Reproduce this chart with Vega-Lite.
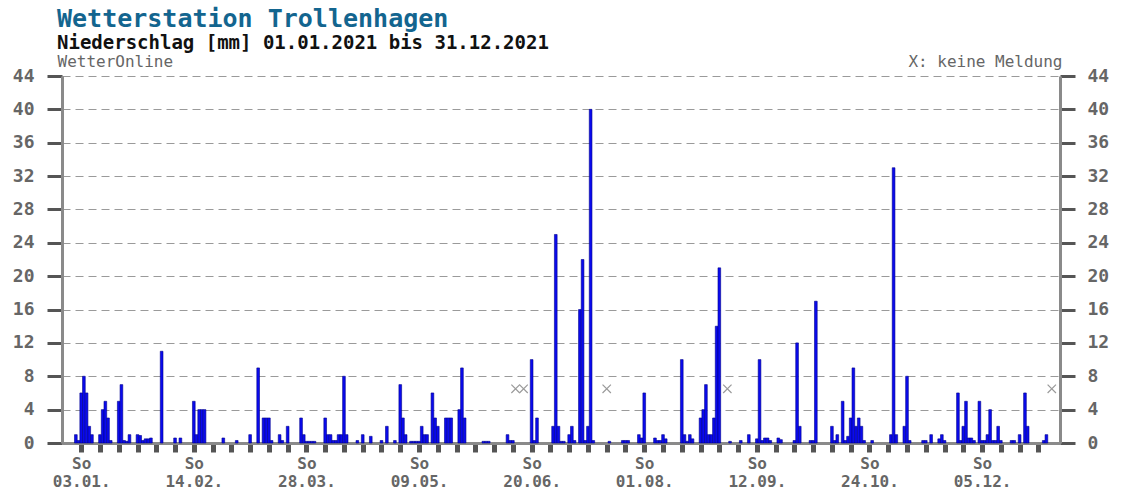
{
  "$schema": "https://vega.github.io/schema/vega-lite/v6.json",
  "width": 998,
  "height": 367,
  "autosize": {"type": "none"},
  "padding": {"left": 62, "top": 76, "right": 61, "bottom": 48},
  "background": "white",
  "config": {"view": {"stroke": null}, "font": "DejaVu Sans Mono"},
  "title": {
    "text": "Wetterstation Trollenhagen",
    "subtitle": "Niederschlag [mm] 01.01.2021 bis 31.12.2021",
    "anchor": "start",
    "frame": "group",
    "dx": -5,
    "offset": 0,
    "font": "DejaVu Sans Mono",
    "fontSize": 25,
    "fontWeight": "bold",
    "color": "#13658f",
    "subtitleFont": "DejaVu Sans Mono",
    "subtitleFontSize": 19,
    "subtitleFontWeight": "bold",
    "subtitleColor": "#111111",
    "subtitlePadding": 2
  },
  "layer": [
    {
      "data": {
        "format": {"parse": {"date": "utc:'%Y-%m-%d'"}},
        "values": [
          {"date": "2021-01-01", "mm": 1.0}, {"date": "2021-01-02", "mm": 0.3}, {"date": "2021-01-03", "mm": 6},
          {"date": "2021-01-04", "mm": 8}, {"date": "2021-01-05", "mm": 6}, {"date": "2021-01-06", "mm": 2},
          {"date": "2021-01-07", "mm": 1}, {"date": "2021-01-10", "mm": 1}, {"date": "2021-01-11", "mm": 4},
          {"date": "2021-01-12", "mm": 5}, {"date": "2021-01-13", "mm": 3}, {"date": "2021-01-14", "mm": 0.3},
          {"date": "2021-01-17", "mm": 5}, {"date": "2021-01-18", "mm": 7}, {"date": "2021-01-19", "mm": 0.3},
          {"date": "2021-01-20", "mm": 0.2}, {"date": "2021-01-21", "mm": 1}, {"date": "2021-01-24", "mm": 1},
          {"date": "2021-01-25", "mm": 0.9}, {"date": "2021-01-26", "mm": 0.3}, {"date": "2021-01-27", "mm": 0.5},
          {"date": "2021-01-28", "mm": 0.5}, {"date": "2021-01-29", "mm": 0.6}, {"date": "2021-02-02", "mm": 11},
          {"date": "2021-02-07", "mm": 0.6}, {"date": "2021-02-09", "mm": 0.6}, {"date": "2021-02-14", "mm": 5},
          {"date": "2021-02-15", "mm": 1}, {"date": "2021-02-16", "mm": 4}, {"date": "2021-02-17", "mm": 4},
          {"date": "2021-02-18", "mm": 4}, {"date": "2021-02-25", "mm": 0.6}, {"date": "2021-03-02", "mm": 0.3},
          {"date": "2021-03-07", "mm": 1}, {"date": "2021-03-10", "mm": 9}, {"date": "2021-03-12", "mm": 3},
          {"date": "2021-03-13", "mm": 3}, {"date": "2021-03-14", "mm": 3}, {"date": "2021-03-15", "mm": 0.3},
          {"date": "2021-03-18", "mm": 1}, {"date": "2021-03-19", "mm": 0.3}, {"date": "2021-03-21", "mm": 2},
          {"date": "2021-03-26", "mm": 3}, {"date": "2021-03-27", "mm": 1}, {"date": "2021-03-28", "mm": 0.2},
          {"date": "2021-03-29", "mm": 0.2}, {"date": "2021-03-30", "mm": 0.2}, {"date": "2021-03-31", "mm": 0.2},
          {"date": "2021-04-04", "mm": 3}, {"date": "2021-04-05", "mm": 1}, {"date": "2021-04-06", "mm": 1},
          {"date": "2021-04-07", "mm": 0.3}, {"date": "2021-04-08", "mm": 0.3}, {"date": "2021-04-09", "mm": 1},
          {"date": "2021-04-10", "mm": 1}, {"date": "2021-04-11", "mm": 8}, {"date": "2021-04-12", "mm": 1},
          {"date": "2021-04-16", "mm": 0.3}, {"date": "2021-04-18", "mm": 1}, {"date": "2021-04-21", "mm": 0.8},
          {"date": "2021-04-25", "mm": 0.3}, {"date": "2021-04-27", "mm": 2}, {"date": "2021-04-30", "mm": 0.3},
          {"date": "2021-05-02", "mm": 7}, {"date": "2021-05-03", "mm": 3}, {"date": "2021-05-04", "mm": 1},
          {"date": "2021-05-06", "mm": 0.2}, {"date": "2021-05-07", "mm": 0.2}, {"date": "2021-05-08", "mm": 0.2},
          {"date": "2021-05-09", "mm": 0.2}, {"date": "2021-05-10", "mm": 2}, {"date": "2021-05-11", "mm": 1},
          {"date": "2021-05-12", "mm": 1}, {"date": "2021-05-14", "mm": 6}, {"date": "2021-05-15", "mm": 3},
          {"date": "2021-05-16", "mm": 2}, {"date": "2021-05-19", "mm": 3}, {"date": "2021-05-20", "mm": 3},
          {"date": "2021-05-21", "mm": 3}, {"date": "2021-05-24", "mm": 4}, {"date": "2021-05-25", "mm": 9},
          {"date": "2021-05-26", "mm": 3}, {"date": "2021-06-02", "mm": 0.2}, {"date": "2021-06-03", "mm": 0.2},
          {"date": "2021-06-04", "mm": 0.2}, {"date": "2021-06-11", "mm": 1}, {"date": "2021-06-12", "mm": 0.3},
          {"date": "2021-06-13", "mm": 0.3}, {"date": "2021-06-20", "mm": 10}, {"date": "2021-06-21", "mm": 0.3},
          {"date": "2021-06-22", "mm": 3}, {"date": "2021-06-28", "mm": 2}, {"date": "2021-06-29", "mm": 25},
          {"date": "2021-06-30", "mm": 2}, {"date": "2021-07-01", "mm": 0.2}, {"date": "2021-07-02", "mm": 0.2},
          {"date": "2021-07-04", "mm": 1}, {"date": "2021-07-05", "mm": 2}, {"date": "2021-07-06", "mm": 0.3},
          {"date": "2021-07-08", "mm": 16}, {"date": "2021-07-09", "mm": 22}, {"date": "2021-07-10", "mm": 0.3},
          {"date": "2021-07-11", "mm": 2}, {"date": "2021-07-12", "mm": 40}, {"date": "2021-07-13", "mm": 0.3},
          {"date": "2021-07-19", "mm": 0.2}, {"date": "2021-07-24", "mm": 0.3}, {"date": "2021-07-25", "mm": 0.3},
          {"date": "2021-07-26", "mm": 0.3}, {"date": "2021-07-30", "mm": 1}, {"date": "2021-07-31", "mm": 0.6},
          {"date": "2021-08-01", "mm": 6}, {"date": "2021-08-05", "mm": 0.6}, {"date": "2021-08-06", "mm": 0.3},
          {"date": "2021-08-07", "mm": 0.3}, {"date": "2021-08-08", "mm": 1}, {"date": "2021-08-09", "mm": 0.5},
          {"date": "2021-08-15", "mm": 10}, {"date": "2021-08-16", "mm": 1}, {"date": "2021-08-17", "mm": 0.2},
          {"date": "2021-08-18", "mm": 1}, {"date": "2021-08-19", "mm": 0.5}, {"date": "2021-08-22", "mm": 3},
          {"date": "2021-08-23", "mm": 4}, {"date": "2021-08-24", "mm": 7}, {"date": "2021-08-25", "mm": 1},
          {"date": "2021-08-26", "mm": 1}, {"date": "2021-08-27", "mm": 3}, {"date": "2021-08-28", "mm": 14},
          {"date": "2021-08-29", "mm": 21}, {"date": "2021-09-02", "mm": 0.2}, {"date": "2021-09-06", "mm": 0.3},
          {"date": "2021-09-09", "mm": 1}, {"date": "2021-09-12", "mm": 0.5}, {"date": "2021-09-13", "mm": 10},
          {"date": "2021-09-14", "mm": 0.3}, {"date": "2021-09-15", "mm": 0.6}, {"date": "2021-09-16", "mm": 0.6},
          {"date": "2021-09-17", "mm": 0.3}, {"date": "2021-09-20", "mm": 0.6}, {"date": "2021-09-21", "mm": 0.4},
          {"date": "2021-09-26", "mm": 0.3}, {"date": "2021-09-27", "mm": 12}, {"date": "2021-09-28", "mm": 2},
          {"date": "2021-10-02", "mm": 0.3}, {"date": "2021-10-03", "mm": 0.3}, {"date": "2021-10-04", "mm": 17},
          {"date": "2021-10-10", "mm": 2}, {"date": "2021-10-11", "mm": 0.3}, {"date": "2021-10-12", "mm": 1},
          {"date": "2021-10-14", "mm": 5}, {"date": "2021-10-15", "mm": 0.3}, {"date": "2021-10-16", "mm": 0.8},
          {"date": "2021-10-17", "mm": 3}, {"date": "2021-10-18", "mm": 9}, {"date": "2021-10-19", "mm": 2},
          {"date": "2021-10-20", "mm": 3}, {"date": "2021-10-21", "mm": 2}, {"date": "2021-10-22", "mm": 0.3},
          {"date": "2021-10-25", "mm": 0.3}, {"date": "2021-11-01", "mm": 1}, {"date": "2021-11-02", "mm": 33},
          {"date": "2021-11-03", "mm": 1}, {"date": "2021-11-06", "mm": 2}, {"date": "2021-11-07", "mm": 8},
          {"date": "2021-11-08", "mm": 0.3}, {"date": "2021-11-13", "mm": 0.3}, {"date": "2021-11-14", "mm": 0.3},
          {"date": "2021-11-16", "mm": 1}, {"date": "2021-11-19", "mm": 0.5}, {"date": "2021-11-20", "mm": 1},
          {"date": "2021-11-21", "mm": 0.3}, {"date": "2021-11-26", "mm": 6}, {"date": "2021-11-27", "mm": 0.3},
          {"date": "2021-11-28", "mm": 2}, {"date": "2021-11-29", "mm": 5}, {"date": "2021-11-30", "mm": 0.6},
          {"date": "2021-12-01", "mm": 0.6}, {"date": "2021-12-02", "mm": 0.3}, {"date": "2021-12-04", "mm": 5},
          {"date": "2021-12-05", "mm": 0.3}, {"date": "2021-12-06", "mm": 0.3}, {"date": "2021-12-07", "mm": 1},
          {"date": "2021-12-08", "mm": 4}, {"date": "2021-12-09", "mm": 0.3}, {"date": "2021-12-10", "mm": 0.3},
          {"date": "2021-12-11", "mm": 2}, {"date": "2021-12-12", "mm": 0.3}, {"date": "2021-12-16", "mm": 0.3},
          {"date": "2021-12-17", "mm": 0.3}, {"date": "2021-12-19", "mm": 1}, {"date": "2021-12-21", "mm": 6},
          {"date": "2021-12-22", "mm": 2}, {"date": "2021-12-28", "mm": 0.3}, {"date": "2021-12-29", "mm": 1}
        ]
      },
      "mark": {"type": "bar", "width": 2.7, "fill": "#0a0aee", "stroke": "#00008c", "strokeWidth": 0.6},
      "encoding": {
        "x": {
          "field": "date",
          "type": "temporal",
          "scale": {
            "type": "utc",
            "domain": [
              {"year": 2020, "month": 12, "date": 28, "hours": 16, "minutes": 48, "utc": true},
              {"year": 2022, "month": 1, "date": 1, "hours": 4, "minutes": 48, "utc": true}
            ]
          },
          "axis": {
            "orient": "bottom",
            "title": null,
            "grid": false,
            "values": [1609632000000, 1610236800000, 1610841600000, 1611446400000, 1612051200000, 1612656000000, 1613260800000, 1613865600000, 1614470400000, 1615075200000, 1615680000000, 1616284800000, 1616889600000, 1617494400000, 1618099200000, 1618704000000, 1619308800000, 1619913600000, 1620518400000, 1621123200000, 1621728000000, 1622332800000, 1622937600000, 1623542400000, 1624147200000, 1624752000000, 1625356800000, 1625961600000, 1626566400000, 1627171200000, 1627776000000, 1628380800000, 1628985600000, 1629590400000, 1630195200000, 1630800000000, 1631404800000, 1632009600000, 1632614400000, 1633219200000, 1633824000000, 1634428800000, 1635033600000, 1635638400000, 1636243200000, 1636848000000, 1637452800000, 1638057600000, 1638662400000, 1639267200000, 1639872000000, 1640476800000],
            "labelExpr": "((datum.value - 1609632000000) % 3628800000 == 0) ? ['So', ' ' + utcFormat(datum.value, '%d.%m.')] : ''",
            "domainColor": "#8a8a8a",
            "domainWidth": 3,
            "tickColor": "#555555",
            "tickWidth": 5,
            "tickSize": 9,
            "labelFont": "DejaVu Sans Mono",
            "labelFontSize": 16,
            "labelFontWeight": "bold",
            "labelColor": "#666666",
            "labelPadding": 3,
            "labelLineHeight": 18,
            "labelOverlap": false,
            "labelFlush": false,
            "labelBound": false
          }
        },
        "y": {
          "field": "mm",
          "type": "quantitative",
          "scale": {"domain": [0, 44], "nice": false, "zero": true},
          "axis": {
            "orient": "left",
            "title": null,
            "values": [0, 4, 8, 12, 16, 20, 24, 28, 32, 36, 40, 44],
            "grid": true,
            "gridDash": [8, 5],
            "gridColor": "#9a9a9a",
            "gridWidth": 1,
            "domainColor": "#8a8a8a",
            "domainWidth": 3,
            "tickColor": "#555555",
            "tickWidth": 3,
            "tickSize": 15,
            "labelFont": "DejaVu Sans Mono",
            "labelFontSize": 18,
            "labelFontWeight": "bold",
            "labelColor": "#666666",
            "labelPadding": 13
          }
        }
      }
    },
    {
      "data": {
        "format": {"parse": {"date": "utc:'%Y-%m-%d'"}},
        "values": [
          {"date": "2021-06-14", "status": "keine Meldung"},
          {"date": "2021-06-17", "status": "keine Meldung"},
          {"date": "2021-07-18", "status": "keine Meldung"},
          {"date": "2021-09-01", "status": "keine Meldung"},
          {"date": "2021-12-31", "status": "keine Meldung"}
        ]
      },
      "mark": {"type": "point", "shape": "M-1,-1L1,1M-1,1L1,-1", "filled": false, "size": 70, "stroke": "#9a9a9a", "strokeWidth": 1.2, "opacity": 1},
      "encoding": {
        "x": {
          "field": "date",
          "type": "temporal",
          "scale": {"type": "utc"},
          "axis": {
            "orient": "top",
            "labels": false,
            "ticks": false,
            "domain": false,
            "grid": false,
            "title": "WetterOnline",
            "titleFont": "DejaVu Sans Mono",
            "titleFontSize": 16,
            "titleFontWeight": "normal",
            "titleColor": "#666666",
            "titleAnchor": "start",
            "titleAlign": "left",
            "titleBaseline": "alphabetic",
            "titleX": -5,
            "titleY": -10
          }
        },
        "y": {
          "datum": 6.5,
          "type": "quantitative",
          "axis": {
            "orient": "right",
            "values": [0, 4, 8, 12, 16, 20, 24, 28, 32, 36, 40, 44],
            "grid": false,
            "domainColor": "#8a8a8a",
            "domainWidth": 3,
            "tickColor": "#555555",
            "tickWidth": 3,
            "tickSize": 15,
            "labelFont": "DejaVu Sans Mono",
            "labelFontSize": 18,
            "labelFontWeight": "bold",
            "labelColor": "#666666",
            "labelPadding": 12,
            "title": "X: keine Meldung",
            "titleFont": "DejaVu Sans Mono",
            "titleFontSize": 16,
            "titleFontWeight": "normal",
            "titleColor": "#666666",
            "titleAngle": 0,
            "titleAlign": "right",
            "titleBaseline": "alphabetic",
            "titleX": 2,
            "titleY": -10
          }
        }
      }
    }
  ],
  "resolve": {"axis": {"x": "independent", "y": "independent"}}
}
